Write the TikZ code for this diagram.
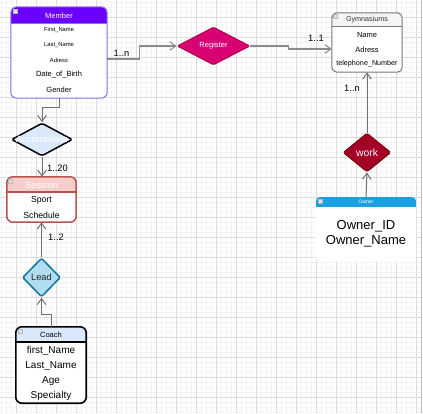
\documentclass[tikz,border=0pt]{standalone}
\usepackage{fontspec}
\setmainfont{Liberation Sans}
\usetikzlibrary{shapes.geometric,arrows.meta,calc}

\definecolor{gridminor}{HTML}{F4F4F4}
\definecolor{gridmajor}{HTML}{DCDCDC}
\definecolor{memberhead}{HTML}{6A00FF}
\definecolor{memberline}{HTML}{8F6CE8}
\definecolor{regfill}{HTML}{D80073}
\definecolor{regline}{HTML}{A50040}
\definecolor{gymhead}{HTML}{F5F5F5}
\definecolor{gymline}{HTML}{7A7A7A}
\definecolor{gymtitle}{HTML}{333333}
\definecolor{workfill}{HTML}{A20025}
\definecolor{workline}{HTML}{6F0000}
\definecolor{ownerhead}{HTML}{1BA1E2}
\definecolor{accfill}{HTML}{DAE8FC}
\definecolor{sesshead}{HTML}{F8CECC}
\definecolor{sessline}{HTML}{B85450}
\definecolor{leadfill}{HTML}{B1DDF0}
\definecolor{leadline}{HTML}{10739E}
\definecolor{coachhead}{HTML}{DAE8FC}
\definecolor{linkgray}{HTML}{8C8C8C}
\definecolor{linkdark}{HTML}{707070}

\newcommand{\fsz}[1]{\fontsize{#1}{#1}\selectfont}

\begin{document}
\begin{tikzpicture}[x=1pt,y=-1pt,
  txt/.style={inner sep=0pt, font=\fsz{#1}},
  lbl/.style={inner sep=0pt, font=\fsz{9.3}},
  icon/.style={fill=gray!25, draw=gray!55, line width=0.4pt},
  rel/.style={diamond, inner sep=0pt, line width=#1, rounded corners=1.5pt},
  link/.style={draw=linkgray, line width=1.2pt, -{Straight Barb[length=6pt,width=8.5pt,line width=1pt]}},
  vlink/.style={draw=linkdark, line width=1pt, -{Straight Barb[length=6pt,width=8.5pt,line width=1pt]}}
]
\useasboundingbox (0,0) rectangle (423,413);
\fill[white] (0,0) rectangle (423,413);

% background grid
\foreach \x in {1,6,...,421} \draw[gridminor, line width=0.6pt] (\x,0) -- (\x,413);
\foreach \y in {2,7,...,412} \draw[gridminor, line width=0.6pt] (0,\y) -- (423,\y);
\foreach \x in {16,36,...,416} \draw[gridmajor, line width=0.9pt] (\x,0) -- (\x,413);
\foreach \y in {17,37,...,397} \draw[gridmajor, line width=0.9pt] (0,\y) -- (423,\y);
\draw[gray!50, line width=1pt] (421.5,0) -- (421.5,413);

% ---------- Member ----------
\node[fill=white, rounded corners=6pt, minimum width=96pt, minimum height=91pt, inner sep=0pt] (member) at (59,52.5) {};
\begin{scope}
  \clip[rounded corners=6pt] (11,7) rectangle (107,98);
  \fill[memberhead] (11,7) rectangle (107,23);
\end{scope}
\draw[memberline, line width=1pt] (11,23) -- (107,23);
\draw[memberline, line width=1pt, rounded corners=6pt] (member.north west) rectangle (member.south east);
\draw[icon] (13,9) rectangle (17,13);
\node[txt=7.5, text=white] (membertitle) at (59,15.5) {Member};
\node[txt=5.8] (m1) at (59,30) {First\_Name};
\node[txt=5.8] (m2) at (59,45) {Last\_Name};
\node[txt=5.8] (m3) at (59,60) {Adress};
\node[txt=7.5] (m4) at (59,75) {Date\_of\_Birth};
\node[txt=7.5] (m5) at (59,90) {Gender};

% ---------- Gymnasiums ----------
\node[fill=white, rounded corners=5pt, minimum width=70pt, minimum height=59pt, inner sep=0pt] (gym) at (367,42.5) {};
\begin{scope}
  \clip[rounded corners=5pt] (332,13) rectangle (402,72);
  \fill[gymhead] (332,13) rectangle (402,26);
\end{scope}
\draw[gymline, line width=0.8pt] (332,26) -- (402,26);
\draw[gymline, line width=1pt, rounded corners=5pt] (gym.north west) rectangle (gym.south east);
\draw[icon] (333.5,14.5) rectangle (337,18);
\node[txt=7.2, text=gymtitle] (gymtitle) at (367,20) {Gymnasiums};
\node[txt=7.5] (g1) at (367,35) {Name};
\node[txt=7.5] (g2) at (367,50) {Adress};
\node[txt=7.2] (g3) at (367,64) {telephone\_Number};

% ---------- Owner ----------
\node[fill=white, rounded corners=4pt, minimum width=100pt, minimum height=65pt, inner sep=0pt] (owner) at (366,229.5) {};
\begin{scope}
  \clip[rounded corners=4pt] (316,197) rectangle (416,262);
  \fill[ownerhead] (316,197) rectangle (416,207);
\end{scope}
\draw[icon] (318,199) rectangle (322,203);
\node[txt=5, text=white] (ownertitle) at (366,202) {Owner};
\node[txt=13, align=center, font=\fontsize{13}{15}\selectfont] (ownerattr) at (366,233.5) {Owner\_ID\\Owner\_Name};

% ---------- Session ----------
\node[fill=white, rounded corners=6pt, minimum width=69pt, minimum height=45pt, inner sep=0pt] (session) at (41.5,199.5) {};
\begin{scope}
  \clip[rounded corners=6pt] (7,177) rectangle (76,222);
  \fill[sesshead] (7,177) rectangle (76,192);
\end{scope}
\draw[sessline, line width=1.3pt] (7,192) -- (76,192);
\draw[sessline, line width=1.5pt, rounded corners=6pt] (session.north west) rectangle (session.south east);
\draw[icon] (8.5,179) rectangle (12.5,183);
\node[txt=9.4, text=white] (sesstitle) at (41.5,185) {Session};
\node[txt=8.7] (s1) at (41.5,200) {Sport};
\node[txt=8.7] (s2) at (41.5,215) {Schedule};

% ---------- Coach ----------
\node[fill=white, rounded corners=6pt, minimum width=70pt, minimum height=76pt, inner sep=0pt] (coach) at (51,365) {};
\begin{scope}
  \clip[rounded corners=6pt] (16,327) rectangle (86,403);
  \fill[coachhead] (16,327) rectangle (86,342);
\end{scope}
\draw[black, line width=1.4pt] (16,342) -- (86,342);
\draw[black, line width=1.6pt, rounded corners=6pt] (coach.north west) rectangle (coach.south east);
\draw[icon] (18,329) rectangle (22,333);
\node[txt=7.5] (coachtitle) at (51,335) {Coach};
\node[txt=10] (c1) at (51,351) {first\_Name};
\node[txt=10] (c2) at (51,366) {Last\_Name};
\node[txt=10] (c3) at (51,381) {Age};
\node[txt=10] (c4) at (51,396) {Specialty};

% ---------- Relationships ----------
\node[rel=0.8pt, fill=regfill, draw=regline, minimum width=73pt, minimum height=38pt,
      label={[txt=7.6, text=white]center:Register}] (register) at (213.5,46) {};
\node[rel=0.8pt, fill=workfill, draw=workline, minimum width=48pt, minimum height=39pt,
      label={[txt=10.4, text=white]center:work}] (work) at (367,152.5) {};
\node[rel=1.5pt, fill=accfill, draw=black, minimum width=61pt, minimum height=33pt,
      label={[txt=9.4, text=white]center:Accomodate}] (acc) at (42,139.5) {};
\node[rel=1.5pt, fill=leadfill, draw=leadline, minimum width=38pt, minimum height=39pt,
      label={[txt=9.3, text=black!85]center:Lead}] (lead) at (41.5,277.5) {};

% ---------- Connectors ----------
\draw[link] ([yshift=-6.5pt]member.east) -- ++(32,0) |- (register.west);
\node[lbl] (l1) at (121.5,53.5) {1..n};
\draw[link] (register.east) -- ++(38,0) |- ([yshift=-6.5pt]gym.west);
\node[lbl] (l2) at (316,38) {1..1};
\draw[vlink] (work.north) -- (gym.south);
\node[lbl] (l3) at (352,88.5) {1..n};
\draw[vlink] (owner.north) -- (work.south);
\draw[vlink] (member.south) -- ++(0,9) -| (acc.north);
\draw[vlink] (acc.south) -- (acc.south |- session.north);
\node[lbl] (l4) at (57.5,168.5) {1..20};
\draw[vlink] (lead.north) -- (lead.north |- session.south);
\node[lbl] (l5) at (56,237.5) {1..2};
\draw[vlink] (coach.north) -- ++(0,-12) -| (lead.south);
\end{tikzpicture}
\end{document}
